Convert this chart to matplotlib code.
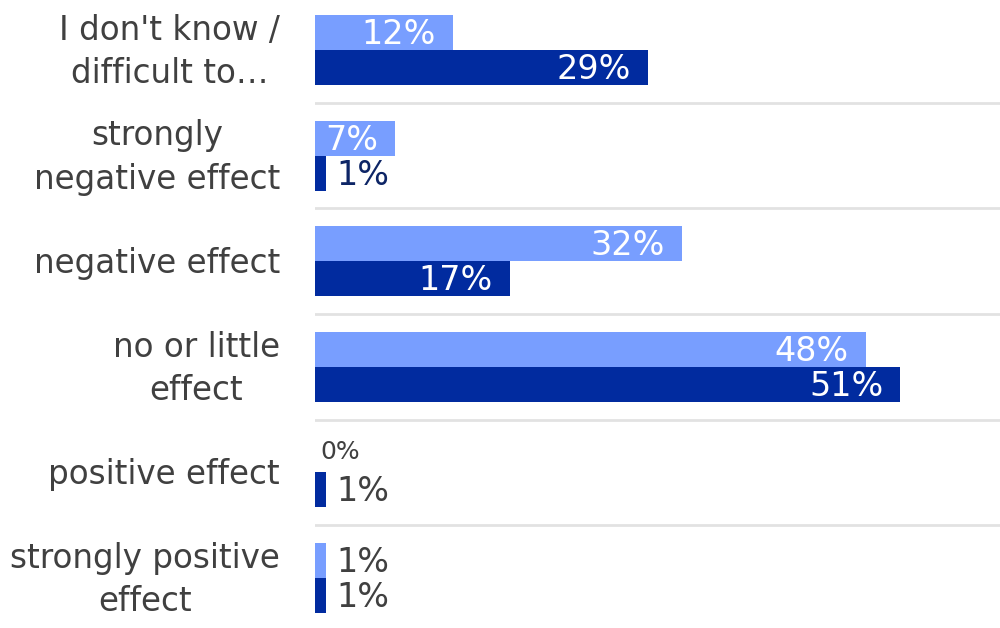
import matplotlib
matplotlib.use("Agg")
import matplotlib.pyplot as plt
from matplotlib.transforms import offset_copy

categories = ["I don't know /\ndifficult to…", "strongly\nnegative effect", "negative effect",
              "no or little\neffect", "positive effect", "strongly positive\neffect"]
series_light = [12, 7, 32, 48, 0, 1]
series_dark = [29, 1, 17, 51, 1, 1]

c_light = "#789eff"
c_dark = "#012b9f"
txt = "#404040"

fig = plt.figure(figsize=(10, 6.28), dpi=100)
ax = fig.add_axes([0.315, 0.0, 0.685, 1.0])
ax.set_xlim(0, 59.7)
ax.set_ylim(5.4735, -0.4735)

h = 0.331
ys = list(range(len(categories)))
ax.barh([y - h / 2 for y in ys], series_light, height=h, color=c_light, linewidth=0)
ax.barh([y + h / 2 for y in ys], series_dark, height=h, color=c_dark, linewidth=0)

for i in range(len(categories) - 1):
    ax.axhline(i + 0.5, color="#e2e2e2", lw=2, zorder=0)

fs = 24
for vals, off, dark in ((series_light, -h / 2, False), (series_dark, h / 2, True)):
    for y, v in zip(ys, vals):
        yy = y + off
        if v == 0:
            tr = offset_copy(ax.transData, fig=fig, x=5, y=0, units="dots")
            ax.text(v, yy - 0.03, f"{v}%", transform=tr, ha="left", va="center",
                    fontsize=18, color=txt)
        elif v >= 5:
            tr = offset_copy(ax.transData, fig=fig, x=-17, y=0, units="dots")
            ax.text(v, yy + 0.02, f"{v}%", transform=tr, ha="right", va="center",
                    fontsize=fs, color="white")
        else:
            col = "#0d2566" if (y == 1 and dark) else txt
            tr = offset_copy(ax.transData, fig=fig, x=10, y=0, units="dots")
            ax.text(v, yy + 0.02, f"{v}%", transform=tr, ha="left", va="center",
                    fontsize=fs, color=col)

ax.set_yticks([])
ax.set_xticks([])
for y, cat in zip(ys, categories):
    tr = offset_copy(ax.get_yaxis_transform(), fig=fig, x=-35, y=-2, units="dots")
    ax.text(0, y, cat, transform=tr, ha="right", va="center", multialignment="center",
            fontsize=23.5, color=txt, linespacing=1.4, clip_on=False)
for s in ax.spines.values():
    s.set_visible(False)

fig.savefig("out.png", dpi=100)
